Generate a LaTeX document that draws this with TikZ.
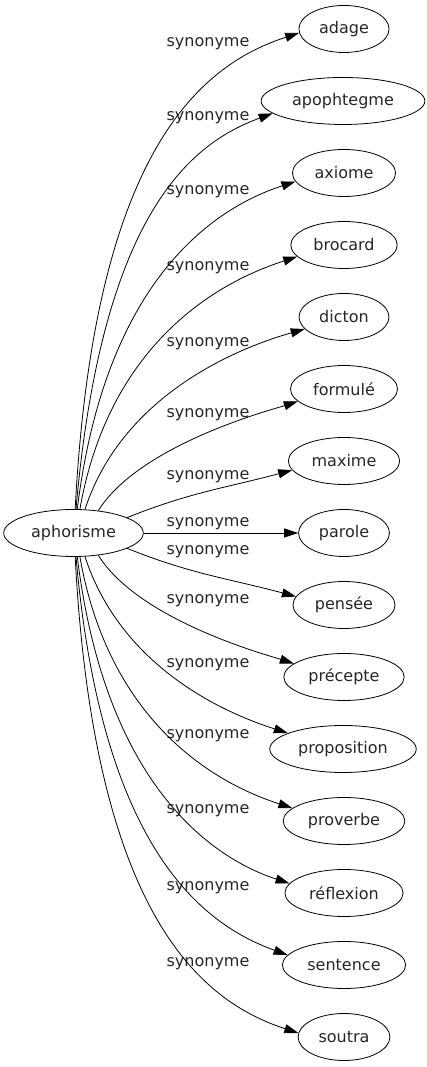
\documentclass[tikz,border=0pt]{standalone}
\usepackage{fontspec}
\setmainfont{DejaVu Sans}
\usetikzlibrary{arrows.meta,shapes.geometric}
\begin{document}
\begin{tikzpicture}[x=1pt,y=1pt,
		word/.style={draw,shape=ellipse,inner xsep=7pt,minimum height=47pt,line width=0.8pt,text=black!85,font=\fontsize{16}{19}\selectfont},
		rel/.style={text=black!85,font=\fontsize{16}{19}\selectfont},
		syn/.style={-{Triangle[length=14pt,width=9pt]},line width=0.8pt}]
			\useasboundingbox (0,0) rectangle (427,1067);
			\node[word] (aph) at (73.5,534) {aphorisme};
			\node[word] (adage) at (344,1038) {adage};
			\node[word] (apophtegme) at (343,966) {apophtegme};
			\node[word] (axiome) at (344,894) {axiome};
			\node[word] (brocard) at (344,822) {brocard};
			\node[word] (dicton) at (344,750) {dicton};
			\node[word] (formule) at (344,678) {formulé};
			\node[word] (maxime) at (344,606) {maxime};
			\node[word] (parole) at (344,534) {parole};
			\node[word] (pensee) at (344,462) {pensée};
			\node[word] (precepte) at (344,390) {précepte};
			\node[word] (proposition) at (343,318) {proposition};
			\node[word] (proverbe) at (344,246) {proverbe};
			\node[word] (reflexion) at (344,174) {réflexion};
			\node[word] (sentence) at (344,102) {sentence};
			\node[word] (soutra) at (344,30) {soutra};
			
			\node[rel] (s1) at (208,1023) {synonyme};
			\node[rel] (s2) at (208,949) {synonyme};
			\node[rel] (s3) at (208,875) {synonyme};
			\node[rel] (s4) at (208,799) {synonyme};
			\node[rel] (s5) at (208,723) {synonyme};
			\node[rel] (s6) at (208,652) {synonyme};
			\node[rel] (s7) at (208,590) {synonyme};
			\node[rel] (s8) at (208,543) {synonyme};
			\node[rel] (s9) at (208,515) {synonyme};
			\node[rel] (s10) at (208,466) {synonyme};
			\node[rel] (s11) at (208,402) {synonyme};
			\node[rel] (s12) at (208,331) {synonyme};
			\node[rel] (s13) at (208,256) {synonyme};
			\node[rel] (s14) at (208,179) {synonyme};
			\node[rel] (s15) at (208,103) {synonyme};
			
			\draw[syn] (aph.86) to[out=87,in=198,out distance=357pt,in distance=105pt] (adage.185);
			\draw[syn] (aph.84) to[out=85,in=200,out distance=297pt,in distance=87pt] (apophtegme.190);
			\draw[syn] (aph.81) to[out=83,in=198,out distance=245pt,in distance=72pt] (axiome.190);
			\draw[syn] (aph.75) to[out=80,in=198,out distance=189pt,in distance=55pt] (brocard.194);
			\draw[syn] (aph.64) to[out=72,in=196,out distance=135pt,in distance=40pt] (dicton.197);
			\draw[syn] (aph.42) to[out=58,in=198,out distance=79pt,in distance=23pt] (formule.195);
			\draw[syn] (aph.16) to[out=22,in=195] (maxime.190);
			\draw[syn] (aph)--(parole);
			\draw[syn] (aph.-16) to[out=-22,in=165] (pensee.170);
			\draw[syn] (aph.-42) to[out=-58,in=162,out distance=78pt,in distance=23pt] (precepte.165);
			\draw[syn] (aph.-64) to[out=-72,in=162,out distance=131pt,in distance=38pt] (proposition.164);
			\draw[syn] (aph.-75) to[out=-80,in=162,out distance=188pt,in distance=55pt] (proverbe.166);
			\draw[syn] (aph.-81) to[out=-83,in=162,out distance=242pt,in distance=70pt] (reflexion.170);
			\draw[syn] (aph.-84) to[out=-85,in=160,out distance=298pt,in distance=87pt] (sentence.170);
			\draw[syn] (aph.-86) to[out=-87,in=162,out distance=355pt,in distance=105pt] (soutra.175);
		\end{tikzpicture}
\end{document}
